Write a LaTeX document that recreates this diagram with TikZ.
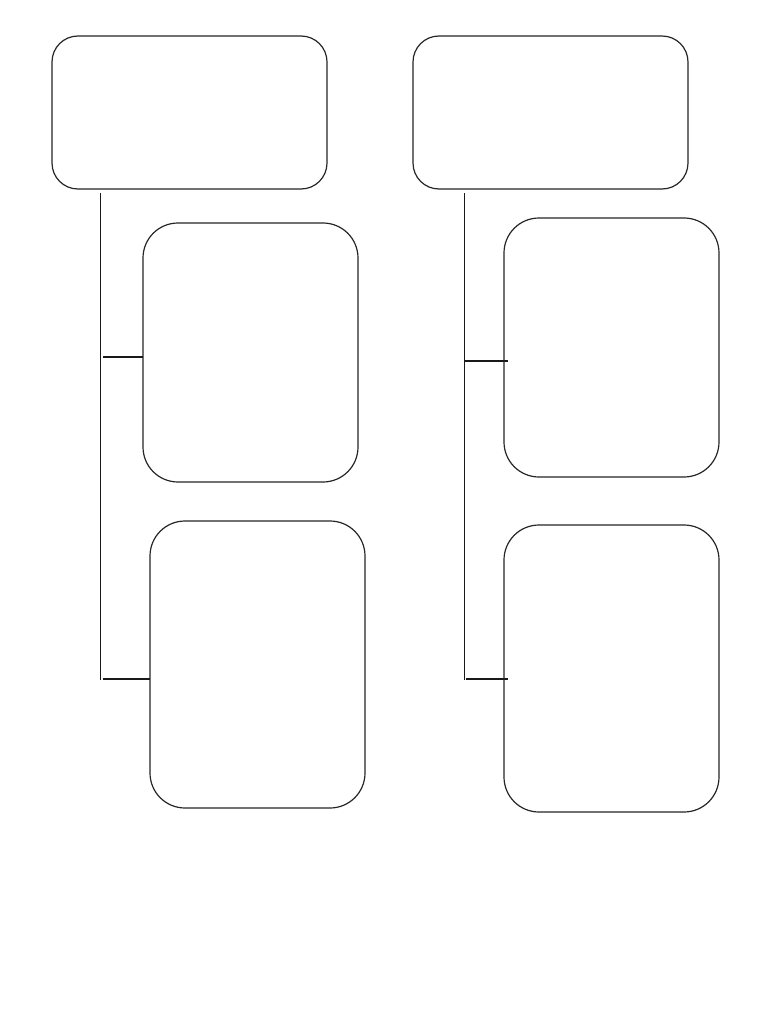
\documentclass[tikz,border=0pt]{standalone}
\begin{document}
\begin{tikzpicture}[x=1pt,y=-1pt,
  box/.style={draw=black!85,line width=1.2pt,rectangle,inner sep=0pt,outer sep=0pt,anchor=north west},
  topbox/.style={box,rounded corners=26pt,minimum width=275pt,minimum height=153pt},
  subbox/.style={box,rounded corners=35pt,minimum width=215pt},
  conn/.style={line width=1.2pt,black!90},
  connthick/.style={line width=1.9pt,black!90}]
\useasboundingbox[fill=white] (0,0) rectangle (768,1024);
% left column
\node[topbox] (lt) at (52,36) {};
\node[subbox,minimum height=259pt] (lm) at (143,223) {};
\node[subbox,minimum height=287pt] (lb) at (150,521) {};
\coordinate (lv1) at (100.5,193);
\coordinate (lv2) at (100.5,680);
\coordinate (lh1) at (103,357);
\coordinate (lh2) at (103,679);
\draw[conn] (lv1) -- (lv2);
\draw[conn] (lh1) -- (lh1 -| lm.west);
\draw[connthick] (lh2) -- (lh2 -| lb.west);
% right column
\node[topbox] (rt) at (413,36) {};
\node[subbox,minimum height=259pt] (rm) at (504,218) {};
\node[subbox,minimum height=287pt] (rb) at (504,525) {};
\coordinate (rv1) at (464.5,193);
\coordinate (rv2) at (464.5,680);
\coordinate (rh1) at (465,361);
\coordinate (rh2) at (466,679);
\draw[conn] (rv1) -- (rv2);
\draw[conn] (rh1) -- ([xshift=4pt]rh1 -| rm.west);
\draw[connthick] (rh2) -- ([xshift=4pt]rh2 -| rb.west);
\end{tikzpicture}
\end{document}
